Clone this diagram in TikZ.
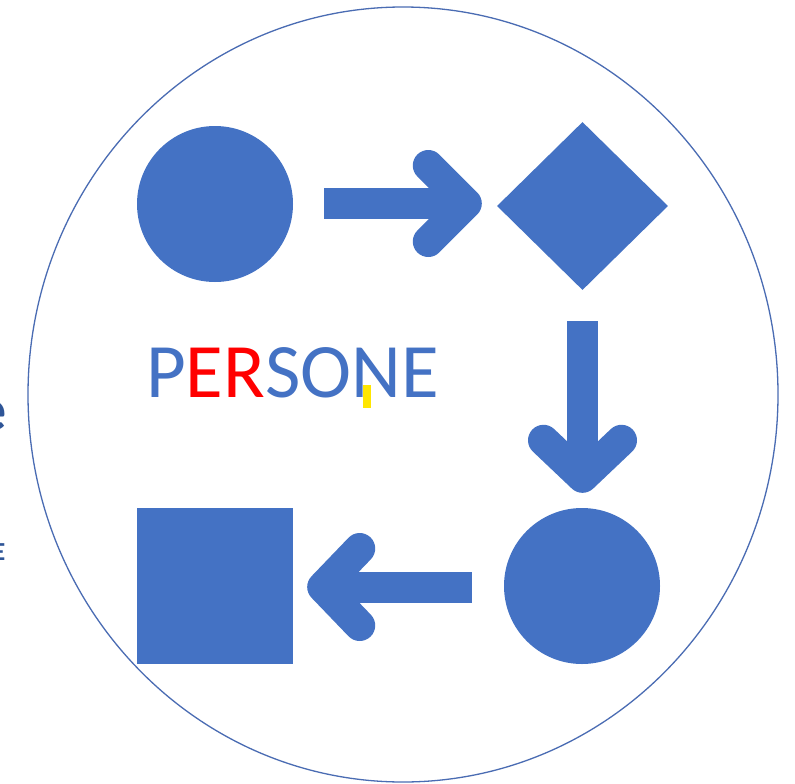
\documentclass[tikz,border=0pt]{standalone}
\usepackage{fontspec}
\setmainfont{Carlito}
\usetikzlibrary{shapes.geometric,calc}
\definecolor{shapeblue}{HTML}{4472C4}
\definecolor{ringblue}{HTML}{4A6CB3}
\definecolor{wordred}{HTML}{FF0000}
\definecolor{markyellow}{HTML}{FFE600}
\definecolor{edgeblue}{HTML}{2F5597}

\begin{document}
\begin{tikzpicture}[x=1pt,y=-1pt,
  blob/.style={fill=shapeblue,draw=none,inner sep=0pt},
  shaft/.style={draw=shapeblue,line width=31pt},
  barb/.style={draw=shapeblue,line width=31pt,line cap=round,line join=round}]
\useasboundingbox (0,0) rectangle (795,784);
\fill[white] (0,0) rectangle (795,784);
\draw[ringblue,line width=1.3pt] (403,394.5) ellipse [x radius=375,y radius=387.5];
% the four shapes
\node[blob,circle,minimum size=156pt] (top) at (215,204) {};
\node[blob,diamond,minimum width=171pt,minimum height=168pt] (dia) at (582.5,206) {};
\node[blob,circle,minimum size=156pt] (bot) at (582,586) {};
\node[blob,rectangle,minimum size=156pt] (box) at (215,586) {};
% arrow top -> dia
\coordinate (r0) at ($(top.east)+(31,-0.5)$);
\coordinate (r1) at ($(dia.west)+(-30.5,0)$);
\draw[shaft] (r0) -- (r0 -| r1);
\draw[barb] ($(r0 -| r1)+(-38,-38)$) -- (r0 -| r1) -- ($(r0 -| r1)+(-38,38)$);
% arrow dia -> bot
\coordinate (d0) at ($(dia.south)+(0,31)$);
\coordinate (d1) at ($(bot.north)+(0,-30.5)$);
\draw[shaft] (d0) -- (d0 |- d1);
\draw[barb] ($(d0 |- d1)+(-39,-37)$) -- (d0 |- d1) -- ($(d0 |- d1)+(39,-37)$);
% arrow bot -> box
\coordinate (l0) at ($(bot.west)+(-32,1)$);
\coordinate (l1) at ($(box.east)+(29.5,0)$);
\draw[shaft] (l0) -- (l0 -| l1);
\draw[barb] ($(l0 -| l1)+(37,-38.5)$) -- (l0 -| l1) -- ($(l0 -| l1)+(37,38.5)$);
% word
\node[inner sep=0pt,anchor=base west,font=\fontsize{77}{80}\selectfont,text=shapeblue] (word) at (146,397) {P\textcolor{wordred}{ER}SONE};
\fill[markyellow] (363,385) rectangle (371,408);
% cut letters at the left edge
\begin{scope}
\clip (0,0) rectangle (795,784);
\node[inner sep=0pt,anchor=base east,font=\bfseries\fontsize{60}{60}\selectfont,text=edgeblue] (cute) at (7,430) {e};
\node[inner sep=0pt,anchor=base east,font=\bfseries\fontsize{26}{26}\selectfont,text=edgeblue] (cutE) at (5.5,560) {E};
\end{scope}
\end{tikzpicture}
\end{document}
